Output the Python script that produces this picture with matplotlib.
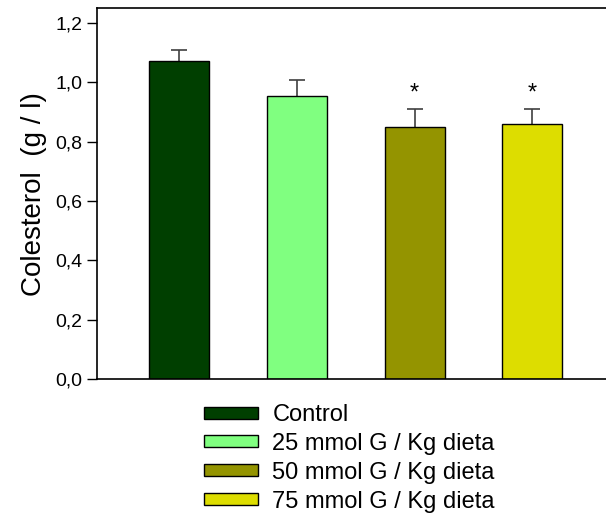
import matplotlib
matplotlib.use("Agg")
import matplotlib.pyplot as plt
from matplotlib.patches import Patch

plt.rcParams['font.family'] = ['Liberation Sans', 'DejaVu Sans']

# data
groups = ["Control", "25 mmol G / Kg dieta", "50 mmol G / Kg dieta", "75 mmol G / Kg dieta"]
means = [1.073, 0.953, 0.850, 0.860]
errors = [0.034, 0.055, 0.061, 0.051]
significant = [False, False, True, True]
colors = ["#003f00", "#80ff80", "#949400", "#dddd00"]
yticks = [0.0, 0.2, 0.4, 0.6, 0.8, 1.0, 1.2]

fig = plt.figure(figsize=(6.06, 5.2), dpi=100)
ax = fig.add_axes([0.1596, 0.2706, 0.855, 0.714])

x = list(range(len(groups)))
ax.bar(x, means, width=0.51, color=colors, edgecolor="black", linewidth=1, zorder=2)
# symmetric bars drawn behind, so only the upper half shows
ax.errorbar(x, means, yerr=errors, fmt="none",
            ecolor="#404040", elinewidth=1.2, capsize=5.5, capthick=1.2, zorder=1)

# significance stars
for xi, m, e, s in zip(x, means, errors, significant):
    if s:
        ax.text(xi, m + e + 0.015, "*", ha="center", va="bottom", fontsize=17)

ax.set_xlim(-0.7, 3.7)
ax.set_ylim(0, 1.25)
ax.set_yticks(yticks)
ax.set_yticklabels([f"{t:.1f}".replace(".", ",") for t in yticks], fontsize=14)
ax.set_xticks([])
ax.tick_params(axis="y", direction="out", length=7, width=1, pad=3.5)
ax.set_ylabel("Colesterol  (g / l)", fontsize=20, labelpad=6)
for sp in ax.spines.values():
    sp.set_linewidth(1.2)

handles = [Patch(facecolor=c, edgecolor="black", linewidth=1) for c in colors]
fig.legend(handles, groups, loc="upper left", bbox_to_anchor=(0.3366, 0.223),
           frameon=False, fontsize=17, handlelength=2.3, handleheight=0.4,
           handletextpad=0.6, labelspacing=0.29, borderpad=0, borderaxespad=0)

fig.savefig("out.png", dpi=100)
